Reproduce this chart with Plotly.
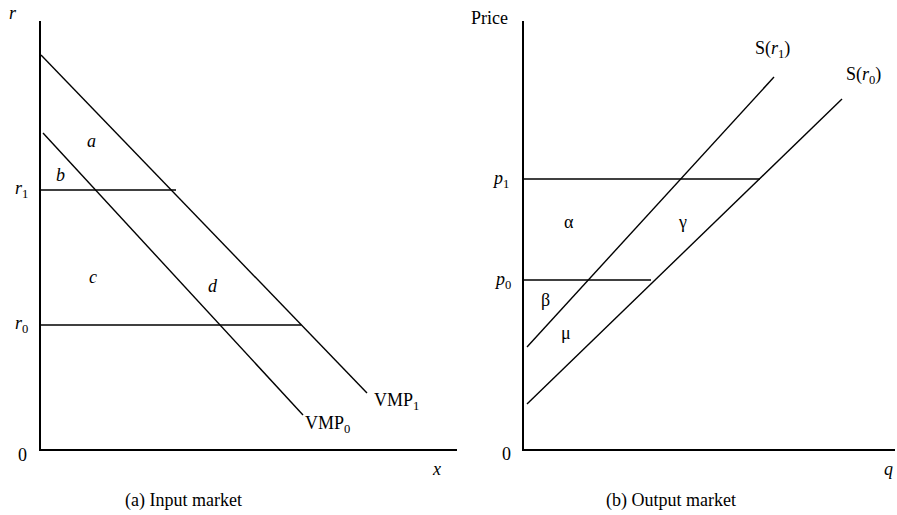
import plotly.graph_objects as go

# ---- Panel (a): input market -------------------------------------------
vmp1_x = [0.0, 8.15]
vmp1_y = [9.85, 1.40]
vmp0_x = [0.05, 6.55]
vmp0_y = [7.90, 0.85]
r1 = 6.475
r0 = 3.10
r1_line_x = [0.0, 3.375]
r0_line_x = [0.0, 6.50]

# ---- Panel (b): output market ------------------------------------------
s_r1_x = [0.075, 6.25]
s_r1_y = [2.55, 9.30]
s_r0_x = [0.075, 7.95]
s_r0_y = [1.125, 8.75]
p1 = 6.75
p0 = 4.225
p1_line_x = [0.0, 5.90]
p0_line_x = [0.0, 3.175]

W, H = 897, 515
FONT = "Liberation Serif"
FS = 18
LW = 1.4

# axis geometry in pixels: (left, right, top, bottom) and data ranges
PANELS = {
    "a": dict(px=(41, 457, 21, 449), xr=(0, 10.4), yr=(0, 10.7)),
    "b": dict(px=(524, 895, 21, 449), xr=(0, 9.275), yr=(0, 10.7)),
}

fig = go.Figure()


def seg(x, y, xa, ya):
    fig.add_trace(go.Scatter(x=x, y=y, mode="lines", xaxis=xa, yaxis=ya,
                             line=dict(color="black", width=LW),
                             hoverinfo="skip", showlegend=False,
                             cliponaxis=False))


# panel (a) lines
seg(vmp1_x, vmp1_y, "x", "y")
seg(vmp0_x, vmp0_y, "x", "y")
seg(r1_line_x, [r1, r1], "x", "y")
seg(r0_line_x, [r0, r0], "x", "y")

# panel (b) lines
seg(s_r1_x, s_r1_y, "x2", "y2")
seg(s_r0_x, s_r0_y, "x2", "y2")
seg(p1_line_x, [p1, p1], "x2", "y2")
seg(p0_line_x, [p0, p0], "x2", "y2")


def dom(p):
    l, r, t, b = PANELS[p]["px"]
    return [l / W, r / W], [(H - b) / H, (H - t) / H]


axis_common = dict(showgrid=False, zeroline=False, showticklabels=False,
                   ticks="", showline=True, linecolor="black", linewidth=1.8,
                   fixedrange=True)

xa_dom, ya_dom = dom("a")
xb_dom, yb_dom = dom("b")
fig.update_layout(
    width=W, height=H,
    margin=dict(l=0, r=0, t=0, b=0),
    paper_bgcolor="white", plot_bgcolor="white",
    font=dict(family=FONT, size=FS, color="black"),
    xaxis=dict(domain=xa_dom, range=list(PANELS["a"]["xr"]), anchor="y",
               **axis_common),
    yaxis=dict(domain=ya_dom, range=list(PANELS["a"]["yr"]), anchor="x",
               **axis_common),
    xaxis2=dict(domain=xb_dom, range=list(PANELS["b"]["xr"]), anchor="y2",
                **axis_common),
    yaxis2=dict(domain=yb_dom, range=list(PANELS["b"]["yr"]), anchor="x2",
                **axis_common),
)


def to_paper(p, x, y):
    xd, yd = dom(p)
    x0, x1 = PANELS[p]["xr"]
    y0, y1 = PANELS[p]["yr"]
    px = xd[0] + (x - x0) / (x1 - x0) * (xd[1] - xd[0])
    py = yd[0] + (y - y0) / (y1 - y0) * (yd[1] - yd[0])
    return px, py


def note(text, px, py):
    fig.add_annotation(text=text, x=px, y=py, xref="paper", yref="paper",
                       xanchor="center", yanchor="middle", showarrow=False,
                       font=dict(family=FONT, size=FS, color="black"))


def label(text, p, x, y):
    px, py = to_paper(p, x, y)
    note(text, px, py)


# panel (a) labels
label("<i>r</i>", "a", -0.7, 10.9)
label("<i>r</i><sub>1</sub>", "a", -0.5, r1)
label("<i>r</i><sub>0</sub>", "a", -0.5, r0)
label("0", "a", -0.475, -0.15)
label("<i>x</i>", "a", 9.9, -0.5)
label("<i>a</i>", "a", 1.275, 7.7)
label("<i>b</i>", "a", 0.475, 6.85)
label("<i>c</i>", "a", 1.3, 4.3)
label("<i>d</i>", "a", 4.3, 4.075)
label("VMP<sub>1</sub>", "a", 8.9, 1.2)
label("VMP<sub>0</sub>", "a", 7.175, 0.62)

# panel (b) labels
label("Price", "b", -0.85, 10.775)
label("<i>p</i><sub>1</sub>", "b", -0.6, p1)
label("<i>p</i><sub>0</sub>", "b", -0.55, p0)
label("0", "b", -0.45, -0.125)
label("<i>q</i>", "b", 9.125, -0.5)
label("α", "b", 1.125, 5.675)
label("γ", "b", 3.95, 5.675)
label("β", "b", 0.525, 3.725)
label("μ", "b", 1.05, 2.9)
label("S(<i>r</i><sub>1</sub>)", "b", 6.2, 9.975)
label("S(<i>r</i><sub>0</sub>)", "b", 8.475, 9.325)

# captions
note("(a) Input market", 183.5 / W, (H - 500) / H)
note("(b) Output market", 671 / W, (H - 500) / H)

fig.write_html("out.html")
